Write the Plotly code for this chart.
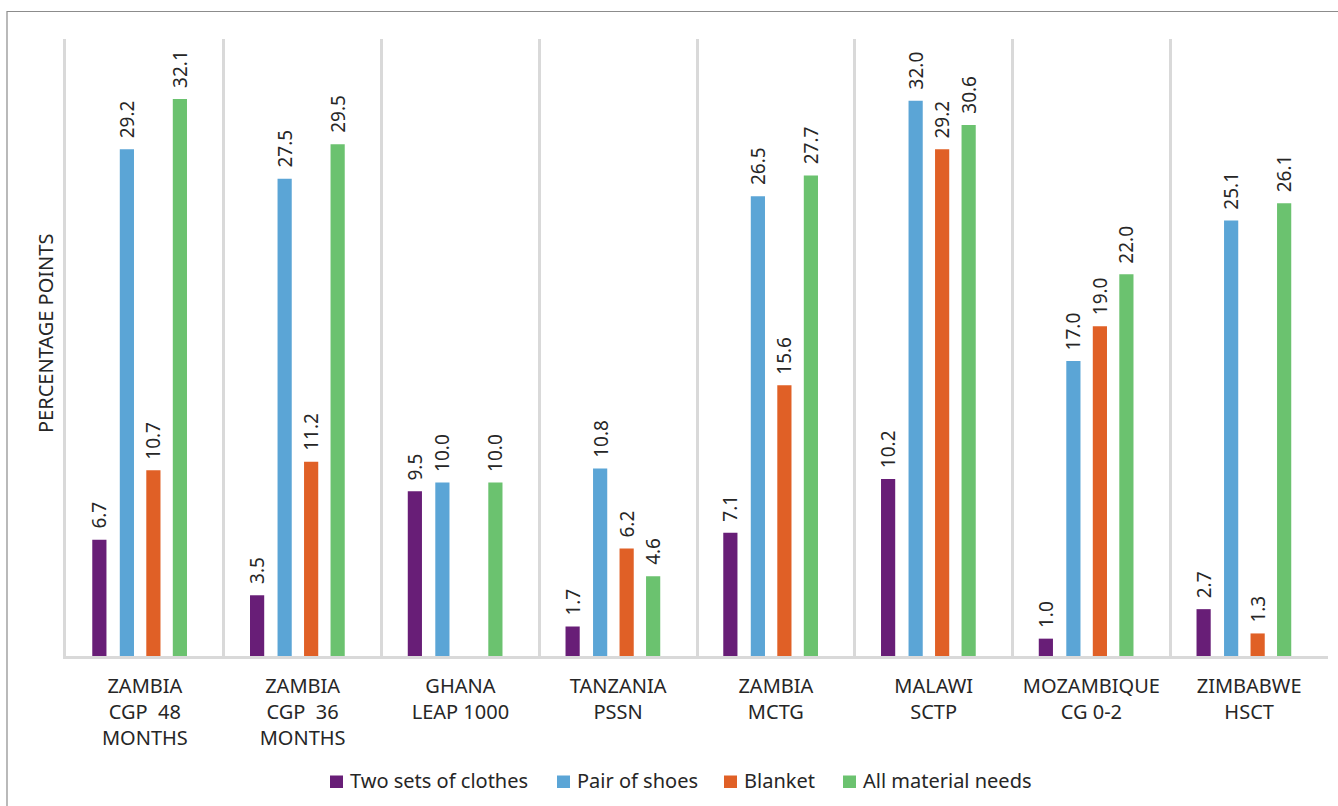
import plotly.graph_objects as go

categories = [
    "ZAMBIA<br>CGP\u00a0\u00a048<br>MONTHS",
    "ZAMBIA<br>CGP\u00a0\u00a036<br>MONTHS",
    "GHANA<br>LEAP 1000",
    "TANZANIA<br>PSSN",
    "ZAMBIA<br>MCTG",
    "MALAWI<br>SCTP",
    "MOZAMBIQUE<br>CG 0-2",
    "ZIMBABWE<br>HSCT",
]
two_sets_of_clothes = [6.7, 3.5, 9.5, 1.7, 7.1, 10.2, 1.0, 2.7]
pair_of_shoes = [29.2, 27.5, 10.0, 10.8, 26.5, 32.0, 17.0, 25.1]
blanket = [10.7, 11.2, None, 6.2, 15.6, 29.2, 19.0, 1.3]
all_material_needs = [32.1, 29.5, 10.0, 4.6, 27.7, 30.6, 22.0, 26.1]

series = [
    ("Two sets of clothes", two_sets_of_clothes, "#681E77", -0.3335),
    ("Pair of shoes", pair_of_shoes, "#5BA5D6", -0.159),
    ("Blanket", blanket, "#E06026", 0.009),
    ("All material needs", all_material_needs, "#6BC26F", 0.177),
]
# legend item left edges (px) in the bottom legend row
legend_px = [330, 557, 724, 843]

FONT = "Noto Sans"
TXT = "#262626"
W, H = 1338, 806
ML, MR, MT, MB = 66, 10, 39, 150
PW, PH = W - ML - MR, H - MT - MB
BAR_W = 0.09
cat_px = PW / len(categories)


def px_x(px):
    return (px - ML) / PW


def px_y(py):
    return (H - MB - py) / PH


fig = go.Figure()
annotations = []
shapes = []
for (name, vals, color, off), lx in zip(series, legend_px):
    fig.add_trace(go.Bar(
        name=name, x=categories, y=vals,
        marker=dict(color=color, line=dict(width=0)),
        width=BAR_W, offset=off, showlegend=False,
    ))
    for c, v in zip(categories, vals):
        if v is None:
            continue
        annotations.append(dict(
            x=c, y=v, xref="x", yref="y", text=f"{v:.1f}", showarrow=False,
            textangle=-90, xanchor="center", yanchor="bottom",
            xshift=(off + BAR_W / 2) * cat_px, yshift=9,
            font=dict(family=FONT, size=19, color=TXT),
        ))
    # legend entry
    shapes.append(dict(type="rect", xref="paper", yref="paper",
                       x0=px_x(lx), x1=px_x(lx + 13), y0=px_y(788), y1=px_y(775.5),
                       fillcolor=color, line=dict(width=0)))
    annotations.append(dict(
        x=px_x(lx + 18), y=px_y(780), xref="paper", yref="paper", text=name,
        showarrow=False, xanchor="left", yanchor="middle",
        font=dict(family=FONT, size=20, color=TXT),
    ))

annotations.append(dict(
    x=px_x(45), y=px_y(334),
    xref="paper", yref="paper", text="PERCENTAGE POINTS", showarrow=False,
    textangle=-90, xanchor="center", yanchor="middle",
    font=dict(family=FONT, size=20, color=TXT),
))

shapes.append(dict(type="rect", xref="paper", yref="paper",
                   x0=px_x(7), x1=1.2, y0=-0.4, y1=px_y(11.5),
                   line=dict(color="#8c8c8c", width=1.2), fillcolor="rgba(0,0,0,0)", layer="below"))

fig.update_layout(
    width=W, height=H,
    margin=dict(l=ML, r=MR, t=MT, b=MB),
    paper_bgcolor="white", plot_bgcolor="white",
    barmode="group",
    showlegend=False,
    annotations=annotations,
    shapes=shapes,
    xaxis=dict(
        type="category", tickson="boundaries", showgrid=True,
        gridcolor="#d9d9d9", gridwidth=2.5, ticks="",
        showline=True, linecolor="#d9d9d9", linewidth=3,
        tickfont=dict(family=FONT, size=20, color=TXT),
        ticklabelstandoff=10,
        range=[-0.5, 7.5],
    ),
    yaxis=dict(
        range=[0, 35.56], showgrid=False, zeroline=False,
        showticklabels=False, ticks="",
        showline=True, linecolor="#d9d9d9", linewidth=2.5,
    ),
)
fig.write_html("out.html")
